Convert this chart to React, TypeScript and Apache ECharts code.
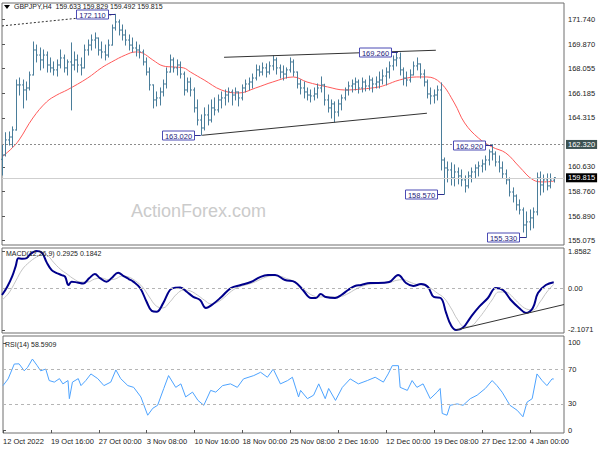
import React, { useEffect, useRef } from 'react';
import * as echarts from 'echarts';

const FONT = '"Liberation Sans", Arial, sans-serif';

const xTickLabels = ['12 Oct 2022', '19 Oct 16:00', '27 Oct 00:00', '3 Nov 08:00', '10 Nov 16:00', '18 Nov 00:00', '25 Nov 08:00', '2 Dec 16:00', '12 Dec 00:00', '19 Dec 08:00', '27 Dec 12:00', '4 Jan 00:00'];
const barsPerLabel = 14;
const priceTicks = [171.74, 169.87, 168.055, 166.185, 164.315, 160.63, 158.76, 156.89, 155.075];
const macdTicks = [1.8582, 0, -2.1071];
const rsiTicks = [100, 70, 30, 0];

const firstOpen = 161.2;
const highs = [
  162.28, 163.2, 163.26, 163.64, 167.17, 167.32, 167.17, 167.02, 167.77, 170.03,
  169.8, 169.58, 169.43, 169.28, 168.83, 168.53, 168.68, 169.43, 169.05, 168.68,
  169.96, 169.28, 169.05, 168.83, 169.8, 170.18, 170.56, 170.71, 170.33, 170.03,
  169.8, 170.18, 171.31, 172.11, 171.69, 171.31, 170.93, 170.56, 170.33, 170.03,
  169.8, 169.43, 168.83, 168.08, 166.8, 166.27, 166.57, 167.17, 168.08, 169.05,
  168.83, 168.68, 168.53, 167.77, 167.32, 167.32, 166.57, 165.67, 164.54, 165.07,
  165.29, 165.67, 165.82, 166.04, 166.27, 166.42, 166.57, 166.42, 166.57, 166.27,
  166.8, 167.17, 167.32, 167.62, 168.3, 168.23, 168.45, 168.38, 168.53, 168.98,
  168.83, 168.3, 168.23, 168.08, 168.83, 168.68, 167.77, 167.17, 167.02, 166.57,
  166.42, 166.57, 166.87, 167.4, 166.85, 166.04, 165.67, 165.52, 165.67, 166.04,
  166.57, 167.02, 167.17, 167.32, 167.17, 167.32, 167.17, 167.47, 167.32, 167.4,
  167.77, 167.93, 168.08, 168.53, 168.98, 169.26, 169.2, 168.08, 167.77, 167.93,
  168.53, 168.83, 168.38, 167.93, 167.17, 166.57, 166.42, 166.72, 166.95, 161.3,
  161.0, 160.93, 160.78, 160.55, 160.4, 159.95, 160.25, 160.55, 160.78, 161.0,
  161.15, 161.45, 161.91, 162.3, 161.76, 161.45, 161.0, 160.4, 159.8, 159.05,
  158.52, 158.14, 157.54, 157.24, 157.39, 157.54, 160.17, 160.25, 160.02, 160.1,
  160.1, 159.83
];
const lows = [
  160.02, 161.45, 162.28, 162.13, 163.4, 166.04, 165.07, 165.67, 166.42, 167.55,
  168.53, 167.93, 168.08, 167.77, 167.77, 167.55, 167.47, 168.08, 167.77, 167.55,
  164.92, 167.93, 167.77, 167.55, 168.08, 169.05, 169.43, 169.58, 169.05, 168.83,
  168.68, 168.9, 169.8, 170.93, 170.56, 170.18, 169.8, 169.43, 169.28, 168.98,
  168.83, 168.3, 167.55, 166.42, 165.07, 165.22, 165.29, 165.97, 166.57, 167.77,
  167.77, 167.55, 167.32, 166.04, 166.27, 165.97, 164.76, 163.79, 163.02, 163.41,
  163.79, 164.01, 164.54, 164.76, 165.07, 165.29, 165.52, 165.29, 165.67, 165.22,
  165.67, 166.27, 166.42, 166.57, 167.17, 167.47, 167.55, 167.4, 167.62, 167.93,
  167.62, 167.32, 167.17, 167.32, 167.77, 167.47, 166.57, 166.12, 165.82, 165.67,
  165.52, 165.67, 165.82, 166.27, 165.29, 164.76, 164.31, 164.01, 164.46, 164.92,
  165.67, 166.04, 166.27, 166.42, 166.19, 166.27, 166.35, 166.42, 166.27, 166.57,
  166.57, 166.87, 166.8, 167.32, 167.93, 168.23, 167.55, 166.8, 166.72, 167.02,
  167.55, 167.93, 167.32, 166.72, 165.82, 165.37, 165.44, 165.67, 160.4, 158.57,
  159.5, 159.27, 159.2, 159.35, 159.2, 158.74, 159.05, 159.5, 159.8, 159.95,
  160.25, 160.4, 160.78, 161.15, 160.7, 160.25, 159.8, 159.35, 158.44, 157.99,
  157.39, 157.09, 155.73, 155.33, 155.89, 156.04, 157.02, 158.52, 158.74, 158.9,
  159.05, 159.49
];
const closes = [
  161.53, 162.66, 162.88, 163.41, 166.8, 166.8, 166.42, 166.57, 167.55, 169.43,
  169.05, 168.68, 169.05, 168.3, 168.08, 167.93, 168.3, 168.83, 168.08, 168.53,
  168.3, 168.68, 168.3, 168.08, 169.43, 169.8, 170.18, 170.33, 169.43, 169.28,
  169.05, 169.8, 171.09, 171.54, 170.93, 170.56, 170.18, 169.8, 169.58, 169.43,
  169.28, 168.53, 167.77, 166.8, 165.67, 165.82, 166.27, 166.87, 167.77, 168.68,
  168.08, 168.3, 167.62, 166.42, 167.02, 166.42, 165.07, 164.16, 163.56, 164.54,
  164.16, 165.07, 164.92, 165.67, 165.82, 166.04, 166.27, 166.04, 166.27, 165.82,
  166.57, 166.87, 167.02, 167.32, 167.93, 167.77, 168.08, 167.77, 168.23, 168.68,
  168.08, 167.77, 167.62, 167.93, 168.53, 167.77, 166.87, 166.57, 166.27, 166.04,
  165.97, 166.12, 166.57, 166.8, 165.67, 165.07, 165.37, 164.76, 165.37, 165.82,
  166.42, 166.72, 166.87, 167.02, 166.57, 167.02, 166.72, 167.17, 166.87, 167.02,
  167.17, 167.47, 167.77, 168.23, 168.68, 168.83, 167.93, 167.32, 167.17, 167.55,
  168.23, 168.38, 167.62, 167.02, 166.12, 165.97, 166.04, 166.42, 161.15, 160.55,
  160.4, 159.8, 160.25, 159.95, 159.65, 159.2, 159.95, 160.25, 160.55, 160.7,
  160.85, 161.15, 161.76, 161.6, 161.0, 160.55, 160.1, 159.65, 158.74, 158.44,
  157.77, 157.39, 156.26, 156.49, 156.79, 157.24, 159.8, 159.27, 159.65, 159.2,
  159.633, 159.815
];

const maPoints = [
  [0, 161.38], [3, 162.06], [5, 162.66], [9, 164.31], [13, 165.52], [16, 166.04], [19, 166.42],
  [25, 167.32], [29, 168.08], [32, 168.53], [36, 169.05], [39, 169.28], [41, 169.2], [44, 168.68],
  [47, 168.23], [50, 168.15], [53, 168.08], [55, 167.77], [59, 167.17], [64, 166.42], [69, 166.19],
  [74, 166.57], [79, 167.02], [85, 167.4], [89, 167.02], [95, 166.65], [100, 166.42], [105, 166.49],
  [110, 166.65], [112, 166.8], [116, 167.17], [121, 167.4], [124, 167.4], [128, 166.95], [132, 165.44],
  [135, 163.94], [139, 162.81], [143, 162.13], [147, 161.68], [151, 160.63], [155, 159.65],
  [158, 159.5], [161, 159.55]
];

const macdPoints = [
  [0, -0.35], [1.5, 0.05], [3, 0.6], [4, 1.1], [4.8, 1.49], [6, 1.47], [7.2, 1.5], [8.2, 1.7],
  [9.1, 1.8], [10, 1.8582], [11.6, 1.78], [13, 1.3], [14.5, 0.9], [16, 0.75], [17.4, 0.65],
  [18.4, 0.57], [19.4, 0.15], [20.3, 0.32], [22, 0.28], [23.7, 0.23], [25.5, 0.5], [27.1, 0.7],
  [28.6, 0.5], [30.5, 0.32], [32, 0.5], [33.9, 0.77], [35.5, 0.6], [37, 0.45], [38.3, 0.32],
  [40.3, 0], [42.2, -0.69], [43.7, -1.15], [45.1, -1.19], [47, -0.77], [49, -0.1], [50.5, 0.02],
  [52, 0.03], [54, -0.2], [55.8, -0.44], [57.8, -0.6], [59.5, -1.0], [61.6, -0.8], [64, -0.45],
  [66.8, 0], [69.7, 0.15], [72.6, 0.3], [75.3, 0.55], [77.6, 0.65], [79.7, 0.65], [82.6, 0.4],
  [85.5, 0.3], [87.8, -0.1], [90.2, -0.5], [91.6, -0.5], [93, -0.3], [94.5, -0.45], [97.2, -0.5],
  [99, -0.35], [101, -0.1], [103, 0.1], [104.8, 0.15], [107.4, 0.25], [109.7, 0.25], [113, 0.3],
  [115.6, 0.65], [117.9, 0.25], [120, 0.1], [122.3, 0.2], [124.3, 0.05], [126, -0.45], [128, -0.5],
  [129.6, -1.25], [131, -1.86], [132.5, -2.1071], [134.5, -2.0], [136.8, -1.46], [139.2, -0.95],
  [141.8, -0.5], [144.1, 0], [146.2, -0.1], [148.5, -0.6], [150.9, -1.0], [152.9, -1.25],
  [154.9, -1.0], [156.4, -0.25], [158.7, 0.15], [161, 0.2925]
];

const signalPoints = [
  [0, -0.6], [2, -0.25], [4, 0.35], [6, 0.95], [8, 1.3], [10, 1.55], [12, 1.72], [13.5, 1.6],
  [15, 1.3], [17, 0.95], [19, 0.7], [21, 0.45], [23, 0.3], [25, 0.3], [27, 0.45], [29, 0.5],
  [31, 0.42], [33, 0.45], [35, 0.6], [37, 0.55], [39, 0.35], [41, 0.05], [43, -0.45], [45, -0.9],
  [47, -1.0], [49, -0.7], [51, -0.3], [53, -0.1], [55, -0.15], [57, -0.35], [59, -0.6], [61, -0.8],
  [63, -0.7], [65, -0.45], [67, -0.15], [69, 0.05], [71, 0.15], [73, 0.25], [75, 0.4], [77, 0.55],
  [79, 0.62], [81, 0.6], [83, 0.48], [85, 0.35], [87, 0.1], [89, -0.2], [91, -0.4], [93, -0.45],
  [95, -0.42], [97, -0.45], [99, -0.42], [101, -0.28], [103, -0.08], [105, 0.08], [107, 0.18],
  [109, 0.22], [111, 0.25], [113, 0.27], [115, 0.38], [117, 0.42], [119, 0.3], [121, 0.18],
  [123, 0.15], [125, 0.0], [127, -0.25], [129, -0.5], [131, -1.0], [133, -1.6], [135, -1.95],
  [137, -1.9], [139, -1.55], [141, -1.1], [143, -0.6], [145, -0.2], [147, -0.2], [149, -0.45],
  [151, -0.8], [153, -1.05], [155, -1.1], [157, -0.7], [159, -0.2], [161, 0.1842]
];

const rsiPoints = [
  [0, 51], [1.5, 58.7], [3.3, 75.8], [4.7, 76], [6.2, 68], [7.2, 72], [8.6, 81.5], [10, 73.9],
  [11, 68], [12.5, 70], [13.5, 56.8], [15, 55], [16.5, 59], [17.5, 53], [19, 56.8], [19.4, 36],
  [20.3, 55], [22, 59], [22.8, 51], [24.2, 56.8], [25.7, 64.4], [27.7, 59], [29.5, 51], [31.5, 55],
  [33, 69], [34.4, 59], [36.5, 51], [38.2, 49], [40.3, 38], [42.3, 17], [43.8, 25], [45.2, 28.4],
  [47, 47.7], [48.4, 62.5], [50.5, 49], [52, 53], [53.4, 38], [55.4, 43.5], [57, 34], [58.7, 28.4],
  [60.7, 45.5], [62.2, 43.5], [64.2, 51], [66.5, 53], [68.5, 49], [70.3, 58.7], [73.3, 62.5],
  [75.3, 66.3], [77.3, 60.6], [79, 70], [81.1, 53], [83.2, 56.8], [84.6, 60.6], [86.4, 38],
  [87, 45.5], [89, 36], [90.8, 40], [92.3, 53], [94.2, 36], [95.2, 47.7], [97.2, 34], [99.2, 49],
  [101.5, 58.7], [103.9, 53], [106.5, 56.8], [108.8, 60.6], [111.2, 55], [112.6, 64.4],
  [113.8, 73.9], [115.6, 73.9], [116.1, 49], [118.2, 45.5], [119.6, 56.8], [121, 49], [122.8, 53],
  [124.9, 36], [126.9, 43.5], [127.8, 47.7], [128.4, 19], [129.8, 17], [130.7, 28.4], [132.8, 30],
  [134.5, 28.4], [136.6, 36], [138.6, 40], [141, 47.7], [143, 56.8], [144.4, 51], [145.9, 43.5],
  [148.2, 28.4], [150.3, 22.7], [152, 15.2], [153.2, 32], [154.7, 36], [156.1, 64.4], [157.6, 56.8],
  [159, 51], [160.5, 58.7], [161, 58.59]
];

const annotations = [
  { idx: 33, price: 172.11, text: '172.110' },
  { idx: 115.5, price: 169.26, text: '169.260' },
  { idx: 58, price: 163.02, text: '163.020' },
  { idx: 143, price: 162.3, text: '162.920' },
  { idx: 129, price: 158.57, text: '158.570' },
  { idx: 153, price: 155.33, text: '155.330' }
];

const topTrend = [[0, 171.24], [33, 172.11]];
const upperChannel = [[64.8, 168.88], [126.6, 169.41]];
const lowerChannel = [[58.4, 163.01], [124, 164.67]];
const macdTrend = [[132.5, -2.11], [164, -0.83]];
const resistanceLevel = 162.32;
const lastPrice = 159.815;
const titleText = 'GBPJPY,H4  159.633 159.829 159.492 159.815';
const macdTitle = 'MACD(12,26,9) 0.2925 0.1842';
const rsiTitle = 'RSI(14) 58.5909';

const BAR_COLOR = '#4a7d9a';
const xTicks = xTickLabels.map((_, k) => k * barsPerLabel);

export default function App() {
  const ref = useRef<HTMLDivElement>(null);

  useEffect(() => {
    if (!ref.current) return;
    const chart = echarts.init(ref.current, undefined, { renderer: 'svg' });

    const ohlc = closes.map((c, i) => [i, i === 0 ? firstOpen : closes[i - 1], highs[i], lows[i], c]);

    const hiddenX = (gi: number) => ({
      type: 'value', gridIndex: gi, min: 0, max: 164, show: false,
    });

    const axisLabelBase = { fontSize: 7.5, color: '#222', fontFamily: FONT };

    const option: any = {
      animation: false,
      backgroundColor: '#ffffff',
      grid: [
        { left: 2, right: 36, top: 3, height: 242, show: true, borderColor: '#6e6e6e', borderWidth: 1 },
        { left: 2, right: 36, top: 248, height: 85, show: true, borderColor: '#6e6e6e', borderWidth: 1 },
        { left: 2, right: 36, top: 336, height: 97, show: true, borderColor: '#6e6e6e', borderWidth: 1 },
      ],
      xAxis: [
        hiddenX(0),
        hiddenX(1),
        {
          type: 'value', gridIndex: 2, min: 0, max: 164,
          axisLine: { show: false },
          splitLine: { show: false },
          axisTick: { show: true, customValues: xTicks, length: 3, lineStyle: { color: '#555' } },
          axisLabel: {
            ...axisLabelBase, customValues: xTicks, align: 'left', margin: 4,
            formatter: (v: number) => xTickLabels[Math.round(v / barsPerLabel)] || '',
          },
        },
      ],
      yAxis: [
        {
          type: 'value', gridIndex: 0, position: 'right', min: 154.7515, max: 172.9665, scale: true,
          axisLine: { show: false }, splitLine: { show: false },
          axisTick: { show: true, customValues: priceTicks, length: 3, lineStyle: { color: '#555' } },
          axisLabel: { ...axisLabelBase, customValues: priceTicks, margin: 4, formatter: (v: number) => v.toFixed(3) },
        },
        {
          type: 'value', gridIndex: 1, position: 'right', min: -2.2577, max: 2.009,
          axisLine: { show: false }, splitLine: { show: false },
          axisTick: { show: true, customValues: macdTicks, length: 3, lineStyle: { color: '#555' } },
          axisLabel: { ...axisLabelBase, customValues: macdTicks, margin: 4, formatter: (v: number) => (v === 0 ? '0.00' : v.toFixed(4)) },
        },
        {
          type: 'value', gridIndex: 2, position: 'right', min: -3.41, max: 107.95,
          axisLine: { show: false }, splitLine: { show: false },
          axisTick: { show: true, customValues: rsiTicks, length: 3, lineStyle: { color: '#555' } },
          axisLabel: { ...axisLabelBase, customValues: rsiTicks, margin: 4, formatter: (v: number) => String(v) },
        },
      ],
      graphic: [
        {
          type: 'text', z: 0, x: 131, y: 211,
          style: { text: 'ActionForex.com', fontSize: 18, fill: '#cbcbcb', fontFamily: FONT, verticalAlign: 'middle' },
        },
        { type: 'polygon', z: 10, shape: { points: [[4, 5], [10, 5], [7, 9]] }, style: { fill: '#000' } },
        {
          type: 'text', z: 10, x: 14, y: 6,
          style: { text: titleText, fontSize: 7, fill: '#222', fontFamily: FONT, verticalAlign: 'middle' },
        },
        {
          type: 'text', z: 10, x: 6, y: 253,
          style: { text: macdTitle, fontSize: 7, fill: '#222', fontFamily: FONT, verticalAlign: 'middle' },
        },
        {
          type: 'text', z: 10, x: 5, y: 344,
          style: { text: rsiTitle, fontSize: 7, fill: '#222', fontFamily: FONT, verticalAlign: 'middle' },
        },
      ],
      series: [
        {
          type: 'line', xAxisIndex: 0, yAxisIndex: 0, data: maPoints, showSymbol: false, smooth: 0.4,
          lineStyle: { color: '#ff5a5a', width: 1 }, z: 3,
          markLine: {
            silent: true, symbol: 'none', animation: false,
            data: [
              {
                yAxis: resistanceLevel,
                lineStyle: { type: [2, 2], color: '#8c8c8c', width: 1 },
                label: {
                  show: true, position: 'end', distance: 2, formatter: resistanceLevel.toFixed(3),
                  backgroundColor: '#3c5252', color: '#ffffff', padding: [1, 2, 0, 2], fontSize: 7.5, fontFamily: FONT,
                },
              },
              {
                yAxis: lastPrice,
                lineStyle: { type: 'solid', color: '#cfcfcf', width: 1 },
                label: {
                  show: true, position: 'end', distance: 2, formatter: lastPrice.toFixed(3),
                  backgroundColor: '#000000', color: '#ffffff', padding: [1, 2, 0, 2], fontSize: 7.5, fontFamily: FONT,
                },
              },
            ],
          },
        },
        {
          type: 'custom', xAxisIndex: 0, yAxisIndex: 0, data: ohlc, z: 4,
          encode: { x: 0, y: [1, 2, 3, 4] },
          renderItem: (params: any, api: any) => {
            const i = api.value(0);
            const o = api.coord([i, api.value(1)]);
            const h = api.coord([i, api.value(2)]);
            const l = api.coord([i, api.value(3)]);
            const c = api.coord([i, api.value(4)]);
            const px = Math.round(o[0]) + 0.5;
            const st = { stroke: BAR_COLOR, lineWidth: 1 };
            return {
              type: 'group',
              children: [
                { type: 'line', shape: { x1: px, y1: h[1] - 0.5, x2: px, y2: l[1] + 0.5 }, style: st },
                { type: 'line', shape: { x1: px - 1.5, y1: o[1], x2: px, y2: o[1] }, style: st },
                { type: 'line', shape: { x1: px, y1: c[1], x2: px + 1.5, y2: c[1] }, style: st },
              ],
            };
          },
        },
        {
          type: 'line', xAxisIndex: 0, yAxisIndex: 0, data: topTrend, showSymbol: false, z: 5,
          lineStyle: { color: '#333', width: 1, type: [2, 2] },
        },
        {
          type: 'line', xAxisIndex: 0, yAxisIndex: 0, data: upperChannel, showSymbol: false, z: 5,
          lineStyle: { color: '#333', width: 1 },
        },
        {
          type: 'line', xAxisIndex: 0, yAxisIndex: 0, data: lowerChannel, showSymbol: false, z: 5,
          lineStyle: { color: '#333', width: 1 },
        },
        {
          type: 'custom', xAxisIndex: 0, yAxisIndex: 0, z: 8, clip: false,
          data: annotations.map((a) => [a.idx, a.price]),
          encode: { x: 0, y: 1 },
          renderItem: (params: any, api: any) => {
            const a = annotations[params.dataIndex];
            const p = api.coord([api.value(0), api.value(1)]);
            const w = 32;
            const hgt = 9;
            const gap = 7;
            const bx = Math.round(p[0] - gap - w) + 0.5;
            const cy = Math.round(p[1]) + 0.5;
            const by = cy - hgt / 2;
            return {
              type: 'group',
              children: [
                { type: 'line', shape: { x1: bx + w, y1: cy, x2: p[0], y2: cy }, style: { stroke: '#2d2d8f', lineWidth: 1 } },
                { type: 'rect', shape: { x: bx, y: by, width: w, height: hgt }, style: { fill: '#ffffff', stroke: '#4b4bb4', lineWidth: 1 } },
                {
                  type: 'text',
                  style: {
                    text: a.text, x: bx + w / 2, y: cy + 0.5, align: 'center', verticalAlign: 'middle',
                    fontSize: 7.5, fill: '#1d1d7a', fontFamily: FONT,
                  },
                },
              ],
            };
          },
        },
        {
          type: 'line', xAxisIndex: 1, yAxisIndex: 1, data: signalPoints, showSymbol: false, smooth: 0.4, z: 3,
          lineStyle: { color: '#c4c4c4', width: 1 },
          markLine: {
            silent: true, symbol: 'none', animation: false, label: { show: false },
            data: [{ yAxis: 0 }],
            lineStyle: { type: [3, 3], color: '#b5b5b5', width: 1 },
          },
        },
        {
          type: 'line', xAxisIndex: 1, yAxisIndex: 1, data: macdPoints, showSymbol: false, smooth: 0.4, z: 4,
          lineStyle: { color: '#00008b', width: 2 },
        },
        {
          type: 'line', xAxisIndex: 1, yAxisIndex: 1, data: macdTrend, showSymbol: false, z: 5,
          lineStyle: { color: '#333', width: 1 },
        },
        {
          type: 'line', xAxisIndex: 2, yAxisIndex: 2, data: rsiPoints, showSymbol: false, z: 4,
          lineStyle: { color: '#4da3ff', width: 1 },
          markLine: {
            silent: true, symbol: 'none', animation: false, label: { show: false },
            data: [{ yAxis: 70 }, { yAxis: 30 }],
            lineStyle: { type: [3, 3], color: '#b5b5b5', width: 1 },
          },
        },
      ],
    };

    chart.setOption(option);
    return () => chart.dispose();
  }, []);

  return (
    <div style={{ position: 'fixed', left: 0, top: 0, width: 600, height: 450, background: '#fff' }}>
      <div ref={ref} style={{ width: 600, height: 450 }} />
    </div>
  );
}
